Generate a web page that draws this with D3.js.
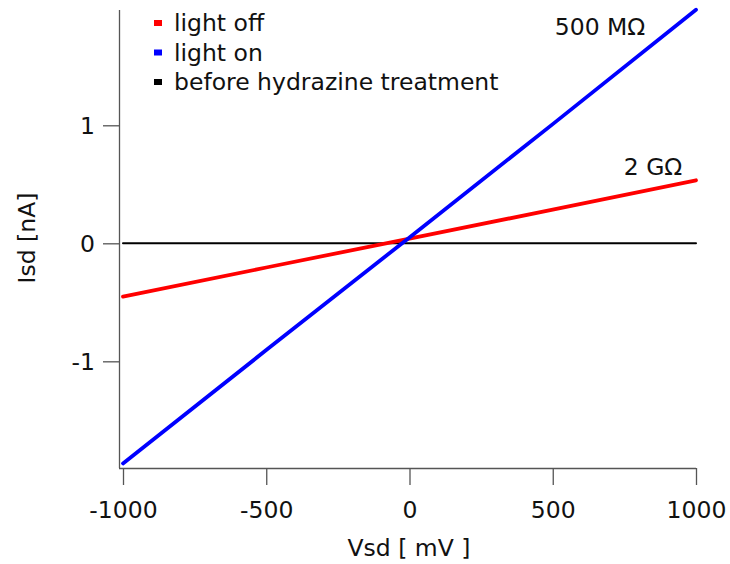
<!DOCTYPE html>
<html>
<head>
<meta charset="utf-8">
<script src="https://cdn.jsdelivr.net/npm/d3@7"></script>
<style>
body { margin: 0; background: #fff; }
svg text { font-family: "DejaVu Sans", Verdana, sans-serif; fill: #111; }
</style>
</head>
<body>
<svg id="chart" width="730" height="564"></svg>
<script>
// ---- data ----
const vsd = [-1000, -500, 0, 500, 1000];                 // mV
const lightOff = [-0.452, -0.205, 0.04, 0.285, 0.534];   // nA
const lightOn = [-1.865, -0.905, 0.05, 1.01, 1.98];      // nA
const beforeTreatment = [0, 0, 0, 0, 0];                 // nA
const seriesNames = ["light off", "light on", "before hydrazine treatment"];
const seriesColors = ["#ff0000", "#0000ff", "#000000"];
const xTicks = [-1000, -500, 0, 500, 1000];
const yTicks = [-1, 0, 1];
const annotations = [
  { text: "500 MΩ", x: 665, y: 1.765 },
  { text: "2 GΩ", x: 850, y: 0.58 }
];

const svg = d3.select("#chart");
const x = d3.scaleLinear().domain([-1000, 1000]).range([123, 696]);
const y = d3.scaleLinear().domain([-1.904, 1.977]).range([468, 10]);
const fs = 23.5;

// x axis
const xAxis = d3.axisBottom(x).tickValues(xTicks).tickSize(17).tickPadding(6)
  .tickFormat(d3.format("d"));
const gx = svg.append("g").attr("transform", "translate(0,468)").call(xAxis);
gx.select(".domain").attr("d", "M119,0.5H696");
// y axis
const yAxis = d3.axisLeft(y).tickValues(yTicks).tickSize(16).tickPadding(8)
  .tickFormat(d3.format("d"));
const gy = svg.append("g").attr("transform", "translate(119,0)").call(yAxis);
gy.select(".domain").attr("d", "M0.5,10V468");
svg.selectAll(".tick text").style("font-size", fs + "px")
  .style("font-family", "'DejaVu Sans', sans-serif").attr("fill", "#111");
svg.selectAll(".domain, .tick line").attr("stroke", "#555").attr("stroke-width", 1.3);
gx.selectAll(".tick text").attr("dy", "1.15em");
gy.selectAll(".tick text").attr("dy", "0.36em");
svg.selectAll(".tick text").text(function(d){ return d < 0 ? "-" + Math.abs(d) : d; });

// series
const seriesData = [lightOff, lightOn, beforeTreatment];
const line = d3.line().x((d, i) => x(vsd[i])).y(d => y(d));
const order = [2, 0, 1];
order.forEach(k => {
  svg.append("path").datum(seriesData[k])
    .attr("d", line)
    .attr("fill", "none")
    .attr("stroke", seriesColors[k])
    .attr("stroke-width", k === 2 ? 2 : 3.8)
    .attr("stroke-linecap", "round");
});

// legend
const lg = svg.append("g");
seriesNames.forEach((n, i) => {
  lg.append("rect").attr("x", 154).attr("y", 20 + i * 29.5).attr("width", 8).attr("height", 6)
    .attr("fill", seriesColors[i]);
  lg.append("text").attr("x", 174).attr("y", 31 + i * 29.5).style("font-size", fs + "px").text(n);
});

// annotations
annotations.forEach(a => {
  svg.append("text").attr("x", x(a.x)).attr("y", y(a.y)).attr("text-anchor", "middle")
    .style("font-size", fs + "px").text(a.text);
});

// axis titles
svg.append("text").attr("x", 409).attr("y", 556).attr("text-anchor", "middle")
  .style("font-size", fs + "px").text("Vsd [ mV ]");
svg.append("text").attr("transform", "translate(35,238) rotate(-90)").attr("text-anchor", "middle")
  .style("font-size", fs + "px").text("Isd [nA]");
</script>
</body>
</html>
